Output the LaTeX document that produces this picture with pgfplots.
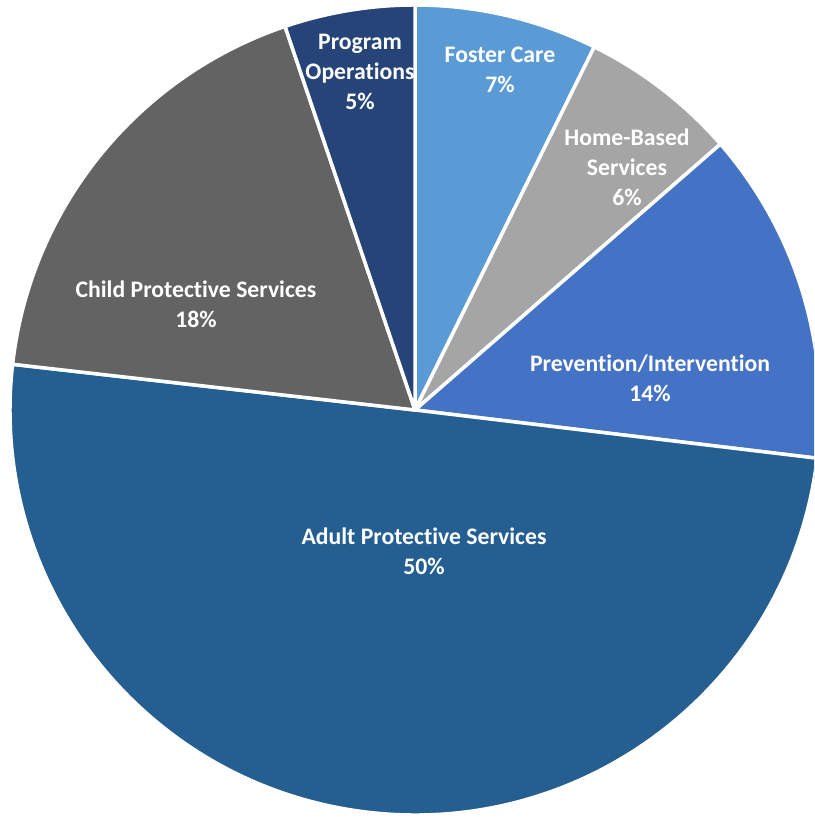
\documentclass[border=0pt]{standalone}
\usepackage{pgfplots}
\pgfplotsset{compat=1.18}
\usepackage{fontspec}
\setmainfont{Carlito}[Ligatures={NoCommon,NoRare,NoDiscretionary}]
\definecolor{cFoster}{HTML}{5B9BD5}
\definecolor{cHome}{HTML}{A5A5A5}
\definecolor{cPrev}{HTML}{4472C4}
\definecolor{cAdult}{HTML}{255E91}
\definecolor{cChild}{HTML}{636363}
\definecolor{cProg}{HTML}{264478}
\tikzset{
  lbl/.style={font=\fontsize{23.8}{30}\selectfont\bfseries, text=white, align=center, inner sep=0pt},
  wedge/.style={draw=white, line width=3.5bp, line join=round},
}
% shares (percent, clockwise from top): 7.3, 6.3, 13.3, 49.9, 18.0, 5.2
\begin{document}
\begin{tikzpicture}
\begin{axis}[
  scale only axis, width=814bp, height=820bp,
  xmin=0, xmax=814, ymin=0, ymax=820,
  hide axis, clip=true,
]
% angles = 90 - 3.6*cumulative percent
\fill[cFoster, wedge] (axis cs:415,410) -- ++(90:405bp) arc[start angle=90, end angle=63.72, radius=405bp] -- cycle;
\fill[cHome, wedge] (axis cs:415,410) -- ++(63.72:405bp) arc[start angle=63.72, end angle=41.04, radius=405bp] -- cycle;
\fill[cPrev, wedge] (axis cs:415,410) -- ++(41.04:405bp) arc[start angle=41.04, end angle=-6.84, radius=405bp] -- cycle;
\fill[cAdult, wedge] (axis cs:415,410) -- ++(-6.84:405bp) arc[start angle=-6.84, end angle=-186.48, radius=405bp] -- cycle;
\fill[cChild, wedge] (axis cs:415,410) -- ++(-186.48:405bp) arc[start angle=-186.48, end angle=-251.28, radius=405bp] -- cycle;
\fill[cProg, wedge] (axis cs:415,410) -- ++(-251.28:405bp) arc[start angle=-251.28, end angle=-270, radius=405bp] -- cycle;
\node[lbl] at (axis cs:500,750) {Foster Care\\7\%};
\node[lbl] at (axis cs:627,653) {Home-Based\\Services\\6\%};
\node[lbl] at (axis cs:650,442) {Prevention/Intervention\\14\%};
\node[lbl] at (axis cs:424,269) {Adult Protective Services\\50\%};
\node[lbl] at (axis cs:196,516) {Child Protective Services\\18\%};
\node[lbl] at (axis cs:360,748) {Program\\Operations\\5\%};
\end{axis}
\pgfresetboundingbox
\useasboundingbox (current axis.south west) rectangle (current axis.north east);
\end{tikzpicture}
\end{document}
